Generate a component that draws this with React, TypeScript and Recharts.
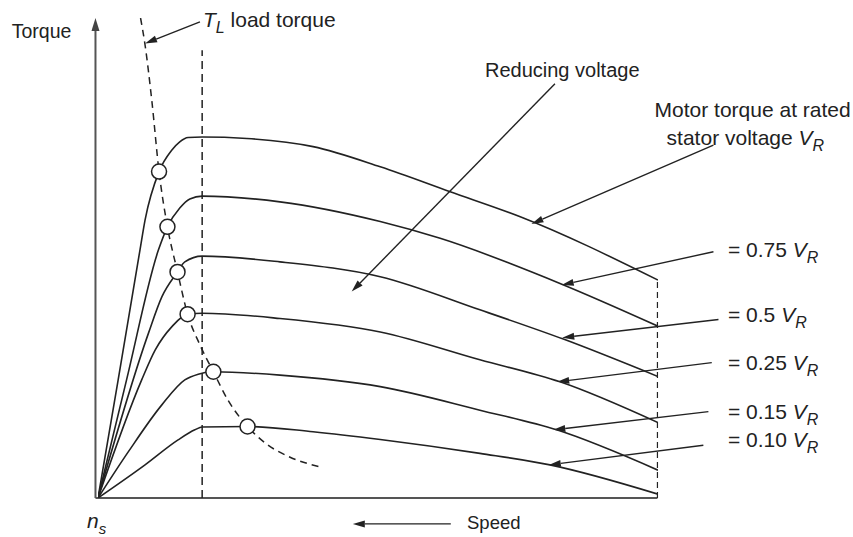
import React from 'react';
import { ComposedChart, Line, Scatter, XAxis, YAxis, ReferenceLine, ReferenceDot } from 'recharts';

// speed runs 0..100 left to right (n_s at the origin), torque 0..100 up the axis
type Pt = { x: number; y: number };
const pts = (rows: number[][]): Pt[] => rows.map(([x, y]) => ({ x, y }));

const ratedVoltage = pts([[0, 0], [3.6, 24.6], [7.5, 51.7], [8.4, 57.9], [10.9, 68.0], [13.2, 72.5], [14.6, 74.2], [16.1, 75.1], [18.6, 75.2], [26.6, 74.9], [38.4, 73.2], [50.4, 69.0], [62.9, 63.8], [75.4, 58.6], [100, 45.4]]);
const voltage075 = pts([[0, 0], [5.1, 24.6], [10.8, 51.7], [12.4, 56.5], [14.6, 60.4], [16.4, 62.3], [18.6, 62.9], [32.5, 61.7], [50.4, 57.6], [61.1, 54.1], [82.5, 44.7], [100, 35.8]]);
const voltage050 = pts([[0, 0], [9.0, 34.3], [11.4, 41.9], [14.2, 47.1], [15.5, 49.2], [18.6, 50.4], [32.5, 49.2], [50.4, 46.1], [68.2, 39.2], [83.1, 33.1], [100, 25.3]]);
const voltage025 = pts([[0, 0], [7.8, 24.6], [10.2, 30.8], [13.2, 35.7], [16.0, 38.3], [18.6, 38.5], [32.5, 37.4], [50.4, 34.6], [68.2, 28.8], [82.5, 24.2], [100, 15.7]]);
const voltage015 = pts([[0, 0], [5.4, 9.6], [11.4, 19.4], [15.5, 24.6], [17.9, 25.8], [20.6, 26.3], [32.5, 25.6], [50.4, 23.2], [68.2, 18.3], [81.9, 14.2], [100, 5.8]]);
const voltage010 = pts([[0, 0], [8.4, 6.9], [14.3, 12.1], [17.3, 14.2], [18.6, 14.8], [26.7, 14.9], [38.4, 13.8], [50.4, 12.2], [68.2, 9.3], [80.7, 6.9], [100, 0.8]]);
const loadTorque = pts([[7.6, 100], [8.4, 94.4], [9.6, 82.9], [10.9, 68.0], [12.4, 56.5], [14.2, 47.1], [16.0, 38.3], [18.2, 31.9], [20.6, 26.3], [23.2, 20.4], [26.7, 14.9], [29.8, 11.5], [34.3, 8.5], [39.6, 6.5]]);
const operatingPoints = pts([[10.9, 68.0], [12.4, 56.5], [14.2, 47.1], [16.0, 38.3], [20.6, 26.3], [26.7, 14.9]]);

const motorCurves = [ratedVoltage, voltage075, voltage050, voltage025, voltage015, voltage010];

// pointer arrows: [fromX, fromY, toX, toY]
const arrows = [
  [18.2, 99.2, 8.4, 94.7],
  [81.6, 86.3, 45.3, 43.0],
  [109.9, 73.5, 77.4, 57.1],
  [109.9, 51.3, 82.8, 44.4],
  [110.8, 37.2, 82.9, 33.4],
  [109.6, 28.2, 82.0, 24.2],
  [109.0, 18.0, 81.3, 14.2],
  [108.1, 11.0, 80.5, 6.9],
  [63.0, -5.4, 45.5, -5.4],
];

const voltageLabels = ['= 0.75', '= 0.5', '= 0.25', '= 0.15', '= 0.10'];
const voltageLabelY = [50.2, 36.7, 26.7, 16.5, 10.7];

const INK = '#222';
const FONT = '"Liberation Sans", Arial, sans-serif';

const Arrow = (p: any) => {
  const { x1, y1, x2, y2 } = p;
  const a = Math.atan2(y2 - y1, x2 - x1);
  const len = 12;
  const w = 3.5;
  const bx = x2 - len * Math.cos(a);
  const by = y2 - len * Math.sin(a);
  const nx = -Math.sin(a) * w;
  const ny = Math.cos(a) * w;
  return (
    <g>
      <line x1={x1} y1={y1} x2={bx} y2={by} stroke={INK} strokeWidth={1.4} />
      <polygon points={`${x2},${y2} ${bx + nx},${by + ny} ${bx - nx},${by - ny}`} fill={INK} />
    </g>
  );
};

const AxisArrow = (p: any) => {
  const { x1, y1, x2, y2 } = p;
  return (
    <g>
      <line x1={x1} y1={y1} x2={x2} y2={y2 + 8} stroke="#555" strokeWidth={2} />
      <polygon points={`${x2},${y2} ${x2 - 4},${y2 + 13} ${x2 + 4},${y2 + 13}`} fill="#444" />
    </g>
  );
};

const VR = () => (
  <>
    <tspan fontStyle="italic"> V</tspan>
    <tspan fontStyle="italic" fontSize={16} dy={6}>R</tspan>
  </>
);

const textAt = (content: React.ReactNode, anchor: 'start' | 'middle' = 'start', size = 21) => (p: any) => (
  <text x={p.cx} y={p.cy} textAnchor={anchor} fontSize={size} fontFamily={FONT} fill={INK}>
    {content}
  </text>
);

export default function App() {
  return (
    <div style={{ position: 'absolute', left: 0, top: 0, background: '#fff' }}>
      <ComposedChart width={853} height={537} margin={{ top: 18, right: 195, bottom: 39, left: 98 }}>
        <XAxis type="number" dataKey="x" domain={[0, 100]} hide allowDataOverflow />
        <YAxis type="number" dataKey="y" domain={[0, 100]} hide allowDataOverflow />

        {/* axes */}
        <ReferenceLine segment={[{ x: -0.45, y: 0 }, { x: 99.9, y: 0 }]} stroke="#555" strokeWidth={2} ifOverflow="visible" />
        <ReferenceLine segment={[{ x: -0.45, y: 0 }, { x: -0.45, y: 100 }]} shape={AxisArrow} ifOverflow="visible" />

        {/* dashed guides */}
        <ReferenceLine segment={[{ x: 18.6, y: 0 }, { x: 18.6, y: 93.3 }]} stroke={INK} strokeWidth={1.5} strokeDasharray="8 5" ifOverflow="visible" />
        <ReferenceLine segment={[{ x: 99.9, y: 0 }, { x: 99.9, y: 45.4 }]} stroke={INK} strokeWidth={1.2} strokeDasharray="6 4" ifOverflow="visible" />

        {motorCurves.map((d, i) => (
          <Line key={i} data={d} dataKey="y" type="monotone" stroke={INK} strokeWidth={1.6} dot={false} activeDot={false} isAnimationActive={false} />
        ))}
        <Line data={loadTorque} dataKey="y" type="monotone" stroke={INK} strokeWidth={1.5} strokeDasharray="7 5" dot={false} activeDot={false} isAnimationActive={false} />
        <Scatter
          data={operatingPoints}
          dataKey="y"
          isAnimationActive={false}
          shape={(p: any) => <circle cx={p.cx} cy={p.cy} r={7.5} fill="#fff" stroke={INK} strokeWidth={1.5} />}
        />

        {arrows.map(([x1, y1, x2, y2], i) => (
          <ReferenceLine key={`a${i}`} segment={[{ x: x1, y: y1 }, { x: x2, y: y2 }]} shape={Arrow} ifOverflow="visible" />
        ))}

        <ReferenceDot x={-15.4} y={95.8} r={0} ifOverflow="visible" shape={textAt('Torque', 'start', 19.5)} />
        <ReferenceDot
          x={18.75}
          y={98.1}
          r={0}
          ifOverflow="visible"
          shape={textAt(
            <>
              <tspan fontStyle="italic">T</tspan>
              <tspan fontStyle="italic" fontSize={16} dy={6}>L</tspan>
              <tspan dy={-6}> load torque</tspan>
            </>
          )}
        />
        <ReferenceDot x={82.9} y={87.7} r={0} ifOverflow="visible" shape={textAt('Reducing voltage', 'middle', 20)} />
        <ReferenceDot x={116.9} y={79.4} r={0} ifOverflow="visible" shape={textAt('Motor torque at rated', 'middle')} />
        <ReferenceDot x={115.6} y={73.5} r={0} ifOverflow="visible" shape={textAt(<>stator voltage<VR /></>, 'middle')} />
        {voltageLabels.map((t, i) => (
          <ReferenceDot key={`v${i}`} x={112.5} y={voltageLabelY[i]} r={0} ifOverflow="visible" shape={textAt(<>{t}<VR /></>)} />
        ))}
        <ReferenceDot x={65.9} y={-6.5} r={0} ifOverflow="visible" shape={textAt('Speed', 'start', 18.5)} />
        <ReferenceDot
          x={-1.96}
          y={-6.25}
          r={0}
          ifOverflow="visible"
          shape={textAt(
            <>
              <tspan fontStyle="italic">n</tspan>
              <tspan fontStyle="italic" fontSize={15} dy={6}>s</tspan>
            </>,
            'start',
            21
          )}
        />
      </ComposedChart>
    </div>
  );
}
